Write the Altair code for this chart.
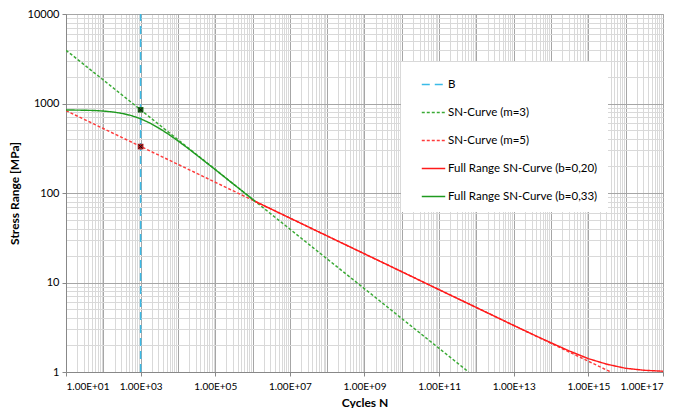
import altair as alt
import pandas as pd

# Series (N cycles, stress range MPa)
series_names = ["B", "SN-Curve (m=3)", "SN-Curve (m=5)",
                "Full Range SN-Curve (b=0,20)", "Full Range SN-Curve (b=0,33)"]
series_colors = ["#3bbbe8", "#3aaa35", "#ff3b3b", "#ff1a1a", "#1f9a1f"]

b_N = [1e3, 1e3]
b_S = [1, 10000]

m3_N = [1e1, 6.2e11]
m3_S = [3940, 1]

m5_N = [1e1, 4.0e15]
m5_S = [832, 1]

full33_N = [1e1, 3.16e1, 5.62e1, 1e2, 1.78e2, 3.16e2, 5.62e2, 1e3, 1.78e3, 3.16e3,
            5.62e3, 1e4, 1.78e4, 3.16e4, 1e5, 3.16e5, 1e6, 1.18e6]
full33_S = [847, 841, 835, 824, 805, 776, 733, 675, 605, 528,
            453, 382, 320, 266, 182.5, 124.6, 85, 80.5]

full20_N = [1.18e6, 1e7, 1e8, 1e9, 1e10, 1e11, 1e12, 1e13, 3.16e13, 1e14, 3.16e14,
            1e15, 3.16e15, 1e16, 3.16e16, 1e17]
full20_S = [80.5, 52.5, 33.1, 20.9, 13.2, 8.3, 5.25, 3.31, 2.64, 2.12, 1.71,
            1.41, 1.22, 1.10, 1.045, 1.02]

marker_N = [1e3, 1e3]
marker_S = [850, 330]
marker_fill = ["#1c6b1c", "#b22222"]

rows = []
for name, Ns, Ss in [
    (series_names[0], b_N, b_S),
    (series_names[1], m3_N, m3_S),
    (series_names[2], m5_N, m5_S),
    (series_names[3], full20_N, full20_S),
    (series_names[4], full33_N, full33_S),
]:
    for i, (n, s) in enumerate(zip(Ns, Ss)):
        rows.append({"series": name, "N": n, "S": s, "i": i})
df = pd.DataFrame(rows)
mk = pd.DataFrame({"N": marker_N, "S": marker_S, "fill": marker_fill})

xticks = [m * 10 ** e for e in range(1, 17) for m in range(1, 10)] + [10 ** 17]
yticks = [m * 10 ** e for e in range(0, 4) for m in range(1, 10)] + [10000]

LOGX = "log(datum.value)/LN10"
IS_DEC = f"abs({LOGX} - round({LOGX})) < 1e-6"
X_LAB = f"({IS_DEC}) && (round({LOGX}) % 2 == 1)"

grid_color = {"condition": {"test": IS_DEC, "value": "#a6a6a6"}, "value": "#d9d9d9"}
font = "Lato"

xscale = alt.Scale(type="log", domain=[10, 1e17], nice=False)
yscale = alt.Scale(type="log", domain=[1, 10000], nice=False)

xaxis = alt.Axis(
    values=xticks, title="Cycles N", labelOverlap=False,
    labelExpr=f"({X_LAB}) ? '1.00E+' + (round({LOGX}) < 10 ? '0' : '') + round({LOGX}) : ''",
    gridColor=grid_color, gridWidth=1,
    tickOpacity={"condition": {"test": X_LAB, "value": 1}, "value": 0},
    tickColor="#888888", tickSize=4,
    domainColor="#888888", labelFontSize=10, labelColor="#000000", labelFont=font,
    titleFont=font, titleFontSize=12, titleFontWeight="bold", titlePadding=6,
    labelPadding=5,
)
yaxis = alt.Axis(
    values=yticks, title="Stress Range [MPa]", labelOverlap=False,
    labelExpr=f"({IS_DEC}) ? format(datum.value, 'd') : ''",
    gridColor=grid_color, gridWidth=1,
    tickOpacity={"condition": {"test": IS_DEC, "value": 1}, "value": 0},
    tickColor="#888888", tickSize=4,
    domainColor="#888888", labelFontSize=11, labelColor="#000000", labelFont=font,
    titleFont=font, titleFontSize=12, titleFontWeight="bold", titlePadding=6,
    labelPadding=3,
)

lines = alt.Chart(df).mark_line(clip=True).encode(
    x=alt.X("N:Q", scale=xscale, axis=xaxis),
    y=alt.Y("S:Q", scale=yscale, axis=yaxis),
    color=alt.Color(
        "series:N",
        scale=alt.Scale(domain=series_names, range=series_colors),
        sort=series_names,
        legend=alt.Legend(
            title=None, orient="none", legendX=335, legendY=48,
            symbolType="stroke", symbolSize=550, symbolStrokeWidth=2,
            labelFont=font, labelFontSize=11.5, labelColor="#000000",
            rowPadding=10, padding=10, fillColor="#ffffff",
            symbolOffset=10, labelOffset=2, labelLimit=300,
        ),
    ),
    strokeDash=alt.StrokeDash(
        "series:N",
        scale=alt.Scale(domain=series_names,
                        range=[[8, 5], [3, 2], [3, 2], [1, 0], [1, 0]]),
        sort=series_names,
        legend=None,
    ),
    strokeWidth=alt.StrokeWidth(
        "series:N",
        scale=alt.Scale(domain=series_names, range=[1.5, 1.4, 1.4, 2, 2]),
        sort=series_names,
        legend=None,
    ),
    detail="series:N",
    order="i:Q",
)

markers = alt.Chart(mk).mark_point(shape="square", filled=True, size=32, opacity=1).encode(
    x=alt.X("N:Q", scale=xscale),
    y=alt.Y("S:Q", scale=yscale),
    color=alt.Color("fill:N", scale=None, legend=None),
)
crosses = alt.Chart(mk).mark_point(shape="M-1,-1L1,1M1,-1L-1,1", size=14,
                                   strokeWidth=1, opacity=1).encode(
    x=alt.X("N:Q", scale=xscale),
    y=alt.Y("S:Q", scale=yscale),
    color=alt.value("#111111"),
)

chart = alt.layer(lines, markers, crosses).properties(
    width=597, height=358, background="#ffffff",
    padding={"left": 0, "top": 0, "right": 0, "bottom": 0},
).configure_view(stroke="#a6a6a6")

chart.save("out.html", embed_options={"renderer": "svg", "actions": False})
